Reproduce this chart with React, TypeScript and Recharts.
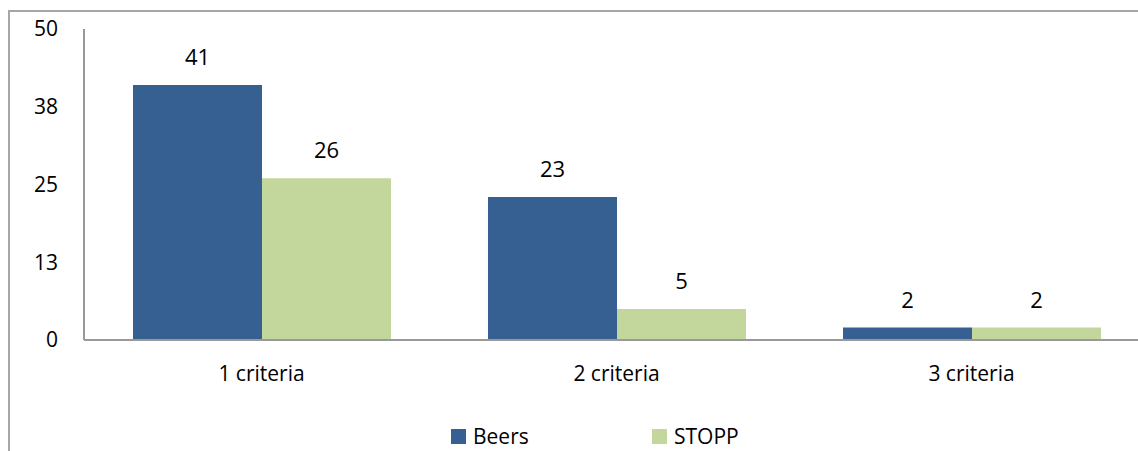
import { BarChart, Bar, XAxis, YAxis, Legend, LabelList } from 'recharts';

const categories = ['1 criteria', '2 criteria', '3 criteria'];
const beers = [41, 23, 2];
const stopp = [26, 5, 2];
const yTicks = [0, 12.5, 25, 37.5, 50];

const BEERS = '#376092';
const STOPP = '#c3d69b';
const FONT = '"Open Sans", Lato, sans-serif';

const data = categories.map((name, i) => ({ name, Beers: beers[i], STOPP: stopp[i] }));

function LegendBox() {
  const item = (color: string, label: string, width: number) => (
    <div style={{ display: 'flex', alignItems: 'center', width }}>
      <span style={{ width: 15, height: 15, background: color, display: 'inline-block', marginRight: 7 }} />
      <span style={{ fontSize: 21, color: '#000', lineHeight: '20px' }}>{label}</span>
    </div>
  );
  return (
    <div style={{ display: 'flex', fontFamily: FONT }}>
      {item(BEERS, 'Beers', 201)}
      {item(STOPP, 'STOPP', 120)}
    </div>
  );
}

export default function App() {
  return (
    <div style={{ position: 'fixed', left: 0, top: 0, width: 1138, height: 451, overflow: 'hidden', background: '#fff' }}>
      <div
        style={{
          position: 'absolute',
          left: 8,
          top: 10,
          width: 1180,
          height: 480,
          border: '2px solid #a6a6a6',
        }}
      />
      <div style={{ position: 'absolute', left: 0, top: 0 }}>
        <BarChart
          width={1160}
          height={451}
          data={data}
          margin={{ top: 29, right: 11, left: 0, bottom: 41 }}
          barGap={0}
          barSize={129}
          style={{ fontFamily: FONT }}
        >
          <XAxis
            dataKey="name"
            axisLine={{ stroke: '#999', strokeWidth: 2 }}
            tickLine={false}
            tickSize={0}
            tickMargin={26}
            height={50}
            tick={{ fill: '#000', fontSize: 21 }}
          />
          <YAxis
            domain={[0, 50]}
            ticks={yTicks}
            tickFormatter={(v: number) => String(Math.round(v))}
            axisLine={{ stroke: '#999', strokeWidth: 2 }}
            tickLine={false}
            tickSize={0}
            tickMargin={26}
            width={84}
            tick={{ fill: '#000', fontSize: 21 }}
          />
          <Legend
            verticalAlign="bottom"
            content={() => <LegendBox />}
            wrapperStyle={{ position: 'absolute', left: 451, top: 426, width: 400, height: 20 }}
          />
          <Bar dataKey="Beers" fill={BEERS} isAnimationActive={false}>
            <LabelList dataKey="Beers" position="top" offset={20} fill="#000" fontSize={22} />
          </Bar>
          <Bar dataKey="STOPP" fill={STOPP} isAnimationActive={false}>
            <LabelList dataKey="STOPP" position="top" offset={20} fill="#000" fontSize={22} />
          </Bar>
        </BarChart>
      </div>
    </div>
  );
}
